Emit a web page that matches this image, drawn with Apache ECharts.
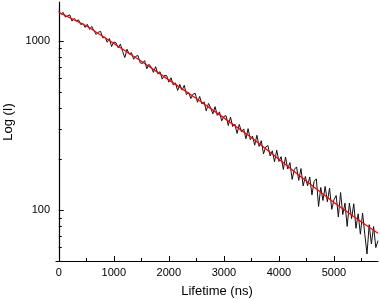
<!DOCTYPE html>
<html>
<head>
<meta charset="utf-8">
<script src="https://cdn.jsdelivr.net/npm/echarts@6/dist/echarts.min.js"></script>
<style>
html,body{margin:0;padding:0;background:#fff;}
#chart{width:380px;height:300px;}
</style>
</head>
<body>
<div id="chart"></div>
<script>
// Measured decay (time in ns, counts)
const times = [
0,40,80,120,160,200,240,280,320,360,400,440,480,
520,560,600,640,680,720,760,800,840,880,920,960,1000,
1040,1080,1120,1160,1200,1240,1280,1320,1360,1400,1440,1480,
1520,1560,1600,1640,1680,1720,1760,1800,1840,1880,1920,1960,2000,
2040,2080,2120,2160,2200,2240,2280,2320,2360,2400,2440,2480,
2520,2560,2600,2640,2680,2720,2760,2800,2840,2880,2920,2960,3000,
3040,3080,3120,3160,3200,3240,3280,3320,3360,3400,3440,3480,
3520,3560,3600,3640,3680,3720,3760,3800,3840,3880,3920,3960,4000,
4040,4080,4120,4160,4200,4240,4280,4320,4360,4400,4440,4480,
4520,4560,4600,4640,4680,4720,4760,4800,4840,4880,4920,4960,5000,
5040,5080,5120,5160,5200,5240,5280,5320,5360,5400,5440,5480,
5520,5560,5600,5640,5680,5720,5760,5800
];
const counts = [
1506,1440,1476,1385,1406,1427,1311,1360,1313,1333,1250,1270,1202,
1255,1171,1219,1149,1093,1128,1139,1043,1054,983,1034,926,985,
976,911,958,867,798,894,836,853,780,812,820,743,
736,765,685,728,700,652,705,639,658,595,625,625,571,
606,549,565,510,553,512,547,481,496,457,485,490,
434,470,424,437,386,427,402,371,409,363,381,337,358,
361,316,355,312,322,284,321,290,302,264,303,261,
274,242,277,238,257,215,236,241,209,224,193,226,194,
207,174,206,175,191,152,174,180,150,176,139,158,
139,157,123,148,153,105,136,114,138,112,135,101,115,
122,91,127,94,110,80,110,89,109,78,95,72,
96,72,55,82,63,80,60,66
];
// Fit curve
const fitTimes = [0,500,1000,1500,2000,2500,3000,3500,4000,4500,5000,5500,5800];
const fitCounts = [1476,1230,966,759,589,457,351,269,200,148,111,85,73];
// Tick labels
const xMajorTicks = [0,1000,2000,3000,4000,5000];
const xMinorTicks = [500,1500,2500,3500,4500,5500];
const yMajorTicks = [100,1000];
const yMinorTicks = [60,70,80,90,200,300,400,500,600,700,800,900];

const font = 'Arial, "Liberation Sans", sans-serif';
const measured = times.map((t, i) => [t, counts[i]]);
const fit = fitTimes.map((t, i) => [t, fitCounts[i]]);
const plain = v => String(Math.round(v));

const chart = echarts.init(document.getElementById('chart'), null, {renderer: 'canvas'});
const axisLine = {show: true, lineStyle: {color: '#000', width: 1.2}};
chart.setOption({
  animation: false,
  backgroundColor: '#fff',
  grid: {left: 56, right: 2, top: 2, bottom: 39, containLabel: false, outerBoundsMode: 'none'},
  xAxis: [{
    type: 'value', min: -50, max: 5800,
    name: 'Lifetime (ns)', nameLocation: 'middle', nameGap: 24,
    nameTextStyle: {fontFamily: font, fontSize: 13, color: '#000'},
    axisLine: axisLine,
    axisTick: {show: true, inside: true, length: 5, customValues: xMajorTicks, lineStyle: {color: '#000', width: 1}},
    axisLabel: {show: true, customValues: xMajorTicks, formatter: plain, fontFamily: font, fontSize: 11, color: '#000', margin: 6},
    splitLine: {show: false}
  }, {
    type: 'value', min: -50, max: 5800, position: 'bottom',
    axisLine: {show: false},
    axisTick: {show: true, inside: true, length: 3, customValues: xMinorTicks, lineStyle: {color: '#000', width: 1}},
    axisLabel: {show: false},
    splitLine: {show: false}
  }],
  yAxis: [{
    type: 'log', logBase: 10, min: 50, max: 1700,
    name: 'Log (I)', nameLocation: 'middle', nameGap: 41,
    nameTextStyle: {fontFamily: font, fontSize: 13, color: '#000', padding: [0, 0, 0, 19]},
    axisLine: axisLine,
    axisTick: {show: true, inside: true, length: 5, customValues: yMajorTicks, lineStyle: {color: '#000', width: 1}},
    axisLabel: {show: true, customValues: yMajorTicks, formatter: plain, fontFamily: font, fontSize: 11, color: '#000', margin: 6},
    splitLine: {show: false}
  }, {
    type: 'log', logBase: 10, min: 50, max: 1700, position: 'left',
    axisLine: {show: false},
    axisTick: {show: true, inside: true, length: 3, customValues: yMinorTicks, lineStyle: {color: '#000', width: 1}},
    axisLabel: {show: false},
    splitLine: {show: false}
  }],
  series: [{
    type: 'line', data: measured, xAxisIndex: 0, yAxisIndex: 0,
    showSymbol: false, symbol: 'none',
    lineStyle: {color: '#111', width: 1}, z: 2
  }, {
    type: 'line', data: fit, xAxisIndex: 0, yAxisIndex: 0,
    showSymbol: false, symbol: 'none',
    lineStyle: {color: '#ff0000', width: 1.3}, z: 3
  }]
});
</script>
</body>
</html>
